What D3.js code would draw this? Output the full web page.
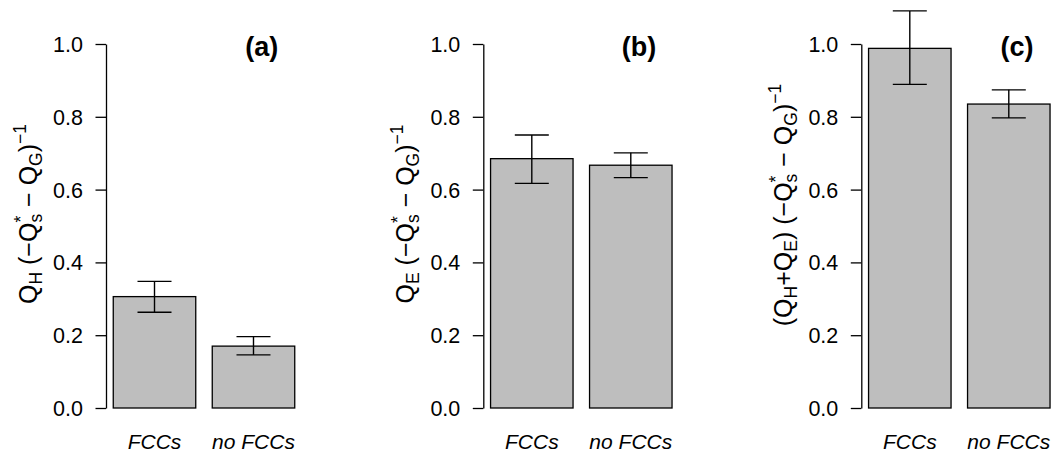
<!DOCTYPE html>
<html>
<head>
<meta charset="utf-8">
<script src="https://cdn.jsdelivr.net/npm/d3@7"></script>
<style>
  html, body { margin: 0; padding: 0; background: #fff; }
  svg { display: block; }
  text { font-family: "Liberation Sans", Arial, Helvetica, sans-serif; fill: #000; white-space: pre; }
</style>
</head>
<body>
<svg id="chart" width="1055" height="452"></svg>
<script>
// Categories shared by all three panels
const categories = ["FCCs", "no FCCs"];

// (a) sensible heat fraction: mean and error-bar limits
const meanA = [0.306, 0.170];
const lowA  = [0.263, 0.146];
const highA = [0.348, 0.196];

// (b) latent heat fraction
const meanB = [0.685, 0.667];
const lowB  = [0.617, 0.633];
const highB = [0.750, 0.701];

// (c) sum of turbulent fluxes
const meanC = [0.988, 0.835];
const lowC  = [0.889, 0.797];
const highC = [1.091, 0.874];

// y-axis ticks
const yTicks = [0, 0.2, 0.4, 0.6, 0.8, 1.0];
const tickLabels = ["0.0", "0.2", "0.4", "0.6", "0.8", "1.0"];

// panel tags
const panelTags = ["(a)", "(b)", "(c)"];

// y-axis titles as [text, role] runs: n = normal, sub, sup, stack = sup placed over previous sub
const labelA = [["Q", "n"], ["H", "sub"], [" (\u2212Q", "n"], ["s", "sub"], ["*", "stack"],
                [" \u2212 Q", "n"], ["G", "sub"], [")", "n"], ["\u22121", "sup"]];
const labelB = [["Q", "n"], ["E", "sub"], [" (\u2212Q", "n"], ["s", "sub"], ["*", "stack"],
                [" \u2212 Q", "n"], ["G", "sub"], [")", "n"], ["\u22121", "sup"]];
const labelC = [["(Q", "n"], ["H", "sub"], ["+Q", "n"], ["E", "sub"], [") (\u2212Q", "n"], ["s", "sub"], ["*", "stack"],
                [" \u2212 Q", "n"], ["G", "sub"], [")", "n"], ["\u22121", "sup"]];

const panels = [
  { mean: meanA, low: lowA, high: highA, tag: panelTags[0], label: labelA, axisX: 106,   labelCY: 214 },
  { mean: meanB, low: lowB, high: highB, tag: panelTags[1], label: labelB, axisX: 483.3, labelCY: 214 },
  { mean: meanC, low: lowC, high: highC, tag: panelTags[2], label: labelC, axisX: 861.3, labelCY: 205 }
];

const svg = d3.select("#chart");

// vertical scale shared by the panels
const y = d3.scaleLinear().domain([0, 1]).range([408, 44]);

const TICK_FS = 21.5, XLAB_FS = 21, YLAB_FS = 25, SUB_FS = 17.5, TAG_FS = 27;
const barFill = "#bebebe";

function drawMathLabel(g, runs) {
  let cursor = 0, lastStart = 0, lastW = 0;
  runs.forEach(([t, role]) => {
    const fs = role === "n" ? YLAB_FS : SUB_FS;
    let dy = 0;
    if (role === "sub") dy = 5;
    if (role === "sup") dy = -11;
    if (role === "stack") dy = -10;
    const x0 = role === "stack" ? lastStart : cursor;
    const el = g.append("text")
      .attr("x", x0).attr("y", dy)
      .attr("font-size", fs)
      .text(t);
    const w = el.node().getComputedTextLength();
    if (role === "stack") {
      cursor = lastStart + Math.max(lastW, w);
    } else {
      lastStart = cursor; lastW = w;
      cursor += w;
    }
  });
  return cursor;
}

panels.forEach(p => {
  // bar positions in barplot units: width 1, space 0.2, range padded 4%
  const x = d3.scaleLinear().domain([0.112, 2.488]).range([p.axisX, p.axisX + 196]);
  const left = i => 0.2 + i * 1.2;
  const mid = i => 0.7 + i * 1.2;
  const g = svg.append("g");

  // bars
  g.selectAll("rect.bar").data(p.mean).join("rect")
    .attr("class", "bar")
    .attr("x", (d, i) => x(left(i)))
    .attr("width", (d, i) => x(left(i) + 1) - x(left(i)))
    .attr("y", d => y(d))
    .attr("height", d => y(0) - y(d))
    .attr("fill", barFill)
    .attr("stroke", "#000")
    .attr("stroke-width", 1.3);

  // error bars
  const capHalf = 17;
  p.mean.forEach((m, i) => {
    const cx = x(mid(i));
    const eg = g.append("g").attr("stroke", "#000").attr("stroke-width", 1.4);
    eg.append("line").attr("x1", cx).attr("x2", cx).attr("y1", y(p.low[i])).attr("y2", y(p.high[i]));
    eg.append("line").attr("x1", cx - capHalf).attr("x2", cx + capHalf).attr("y1", y(p.high[i])).attr("y2", y(p.high[i]));
    eg.append("line").attr("x1", cx - capHalf).attr("x2", cx + capHalf).attr("y1", y(p.low[i])).attr("y2", y(p.low[i]));
  });

  // y axis
  const axis = d3.axisLeft(y).tickValues(yTicks).tickFormat((d, i) => tickLabels[i])
    .tickSizeOuter(0).tickSizeInner(10.5).tickPadding(12.5);
  const ag = g.append("g").attr("transform", `translate(${p.axisX},0)`).call(axis);
  ag.select(".domain").attr("stroke", "#000").attr("stroke-width", 1.3);
  ag.selectAll(".tick line").attr("stroke", "#000").attr("stroke-width", 1.3);
  ag.selectAll(".tick text")
    .attr("font-family", "Liberation Sans, Arial, sans-serif")
    .attr("font-size", TICK_FS)
    .attr("fill", "#000")
    .attr("dy", null)
    .attr("y", 7.5);

  // category labels
  g.selectAll("text.cat").data(categories).join("text")
    .attr("class", "cat")
    .attr("x", (d, i) => x(mid(i)))
    .attr("y", 449)
    .attr("text-anchor", "middle")
    .attr("font-style", "italic")
    .attr("font-size", XLAB_FS)
    .text(d => d);

  // panel tag
  g.append("text")
    .attr("x", x(2.0))
    .attr("y", 56)
    .attr("text-anchor", "middle")
    .attr("font-weight", "bold")
    .attr("font-size", TAG_FS)
    .text(p.tag);

  // rotated y-axis title
  const lg = g.append("g");
  const inner = lg.append("g");
  const L = drawMathLabel(inner, p.label);
  inner.attr("transform", `translate(${-L / 2},0)`);
  lg.attr("transform", `translate(${p.axisX - 69},${p.labelCY}) rotate(-90)`);
});
</script>
</body>
</html>
